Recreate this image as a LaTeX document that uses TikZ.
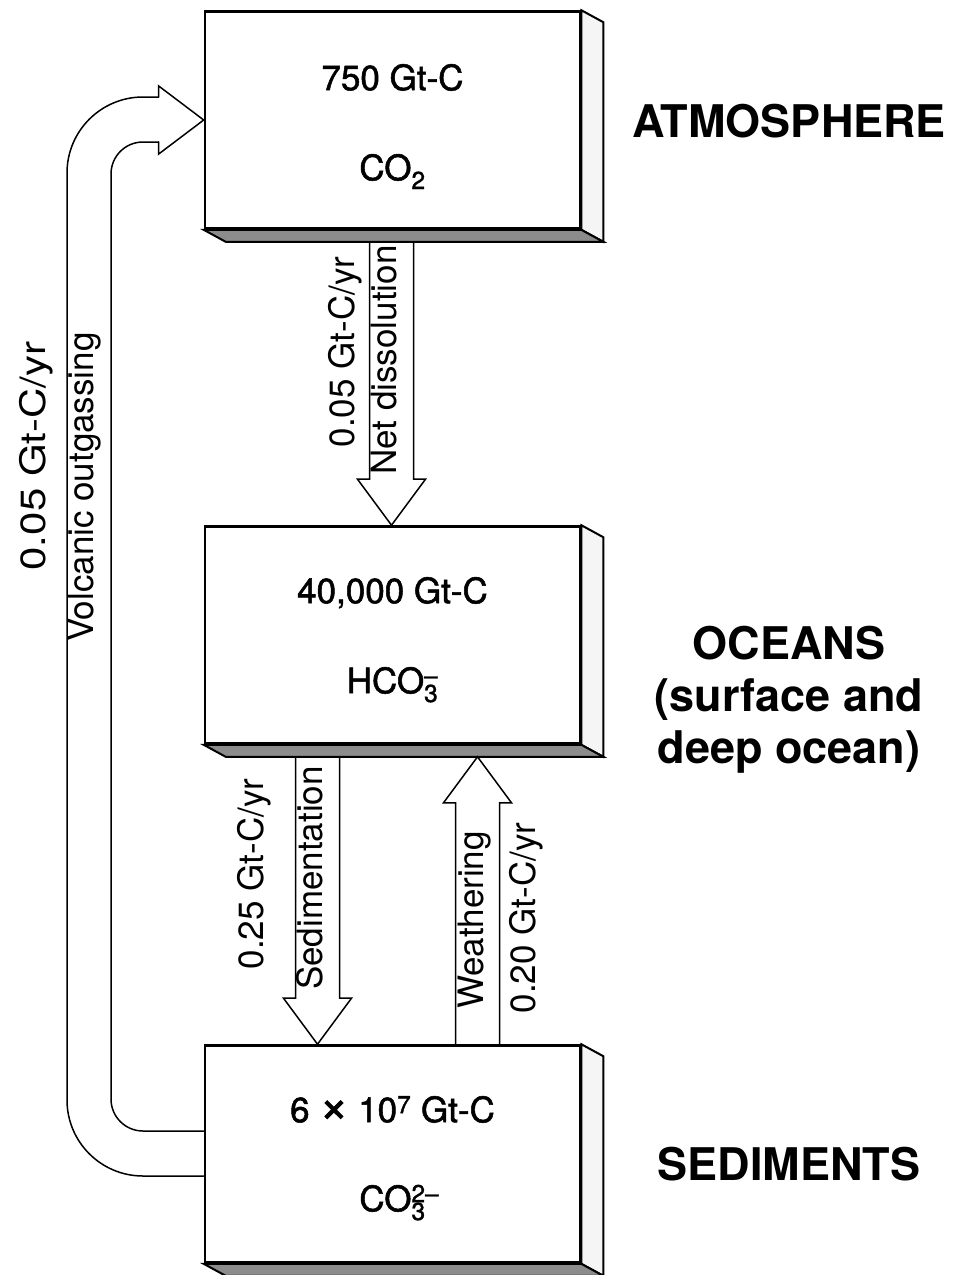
\documentclass[tikz,border=0pt]{standalone}
\usepackage{fontspec}
\setmainfont{TeX Gyre Heros}
\usetikzlibrary{calc}

% side and bottom faces of a reservoir
\newcommand{\boxfaces}[1]{%
  \filldraw[sideface] (#1.north east) -- ++(22,12) -- ($(#1.south east)+(22,12)$) -- (#1.south east) -- cycle;
  \filldraw[bottomface] (#1.south west) -- ++(22,12) -- ($(#1.south east)+(22,12)$) -- (#1.south east) -- cycle;
}
% broad flux arrows, tail and tip
\newcommand{\downflow}[2]{%
  \draw[flow] ($#1+(-22,0)$) -- ($#2+(-22,-46)$) -- ($#2+(-34,-46)$) -- #2
    -- ($#2+(34,-46)$) -- ($#2+(22,-46)$) -- ($#1+(22,0)$);
}
\newcommand{\upflow}[2]{%
  \draw[flow] ($#1+(-22,0)$) -- ($#2+(-22,46)$) -- ($#2+(-34,46)$) -- #2
    -- ($#2+(34,46)$) -- ($#2+(22,46)$) -- ($#1+(22,0)$);
}

\begin{document}
\begin{tikzpicture}[x=1pt,y=-1pt,
    reservoir/.style={draw,line width=2.6pt,fill=white,minimum width=375pt,minimum height=217pt,inner sep=0pt},
    sideface/.style={line width=2pt,fill=black!4},
    bottomface/.style={line width=2pt,fill=black!45},
    flow/.style={line width=1.5pt,line cap=round},
    amount/.style={font=\fontsize{35}{42}\selectfont\addfontfeature{FakeBold=1.5},anchor=base},
    rate/.style={font=\fontsize{35}{42}\selectfont,rotate=90,anchor=mid,inner sep=0pt},
    region/.style={font=\bfseries\fontsize{45}{52}\selectfont,anchor=base,align=center}]
  \useasboundingbox (0,0) rectangle (961,1275);

  % reservoirs
  \node[reservoir] (atm) at (392.5,120) {};
  \node[reservoir] (ocn) at (392.5,635) {};
  \node[reservoir] (sed) at (392.5,1154) {};
  \boxfaces{atm}
  \boxfaces{ocn}
  \boxfaces{sed}

  \node[amount] (atm-m) at ($(atm.north)+(0,80)$) {750 Gt-C};
  \node[amount] (atm-s) at ($(atm.north)+(0,170)$) {CO\textsubscript{2}};
  \node[amount] (ocn-m) at ($(ocn.north)+(0,78)$) {40,000 Gt-C};
  \node[amount] (ocn-s) at ($(ocn.north)+(0,168)$) {HCO\rlap{\textsuperscript{–}}\textsubscript{3}};
  \node[amount] (sed-m) at ($(sed.north)+(0,78)$) {6 {\fontsize{50}{50}\selectfont ×} 10\textsuperscript{7} Gt-C};
  \node[amount] (sed-s) at ($(sed.north)+(0,167)$) {CO\rlap{\textsuperscript{2–}}\textsubscript{3}};

  \node[region] (atm-l) at (789,137) {ATMOSPHERE};
  \node[region] (ocn-l) at (789,763) {OCEANS\\(surface and\\deep ocean)};
  \node[region] (sed-l) at (789,1180) {SEDIMENTS};

  % fluxes between the boxes
  \coordinate (dis0) at ($(atm.south)+(-1,12)$);
  \coordinate (dis1) at ($(ocn.north)+(-1,0)$);
  \coordinate (sink0) at ($(ocn.south)+(-75,12)$);
  \coordinate (sink1) at ($(sed.north)+(-75,0)$);
  \coordinate (wea0) at ($(sed.north)+(85,0)$);
  \coordinate (wea1) at ($(ocn.south)+(85,12)$);
  \downflow{(dis0)}{(dis1)}
  \downflow{(sink0)}{(sink1)}
  \upflow{(wea0)}{(wea1)}

  % volcanic return path
  \coordinate (vo0) at ($(sed.west)+(0,22)$);
  \coordinate (vi0) at ($(sed.west)+(0,-23)$);
  \coordinate (vh) at ($(atm.west)+(-45,0)$);
  \draw[flow,rounded corners=76pt] (vo0) -- (67,0 |- vo0) -- (67,97) -- ($(vh)+(0,-23)$);
  \draw[flow] ($(vh)+(0,-23)$) -- ($(vh)+(0,-34)$) -- (atm.west) -- ($(vh)+(0,34)$) -- ($(vh)+(0,22)$);
  \draw[flow,rounded corners=32pt] ($(vh)+(0,22)$) -- (111,142) -- (111,0 |- vi0) -- (vi0);

  \node[rate] (vol-t) at (91,487) {Volcanic outgassing};
  \node[rate] (vol-r) at (43,456) {\scalebox{1.2}[1]{0.05 Gt-C/yr}};
  \node[rate] (dis-t) at (394,360) {Net dissolution};
  \node[rate] (dis-r) at (352,352) {0.05 Gt-C/yr};
  \node[rate] (sink-t) at (320,878) {Sedimentation};
  \node[rate] (sink-r) at (261,874) {0.25 Gt-C/yr};
  \node[rate] (wea-t) at (481,920) {Weathering};
  \node[rate] (wea-r) at (533,918) {0.20 Gt-C/yr};
\end{tikzpicture}
\end{document}
